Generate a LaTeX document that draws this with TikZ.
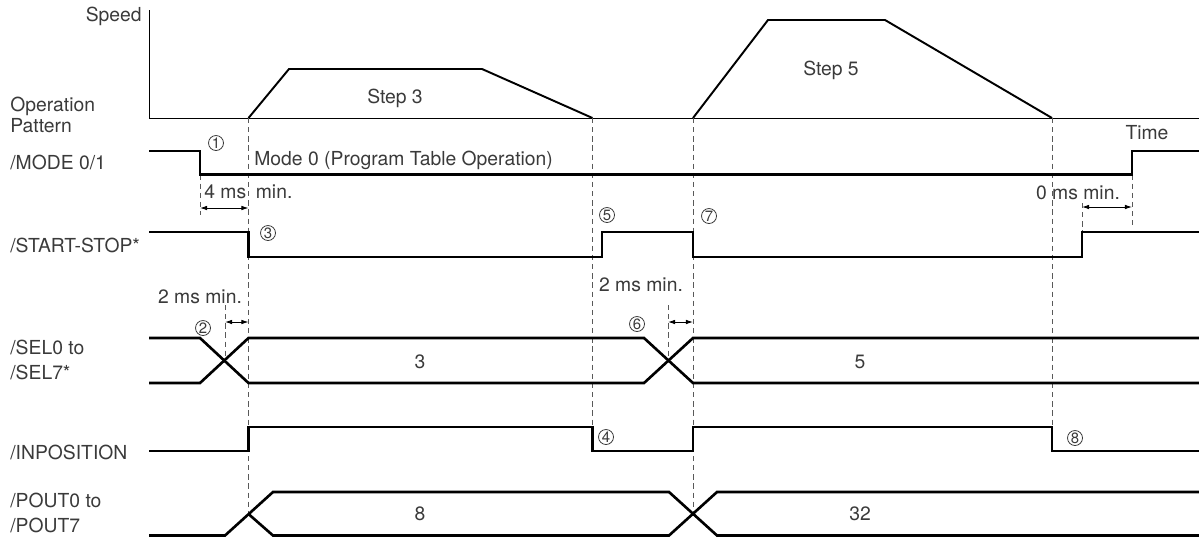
\documentclass[tikz,border=0pt]{standalone}
\usepackage{fontspec}
\setmainfont{TeX Gyre Heros}
\usepackage{tikz}
\usetikzlibrary{calc, arrows.meta}
\usetikzlibrary{positioning}
\definecolor{inkgray}{HTML}{3A3A3A}
\tikzset{
    sig/.style   = {line width=1.5pt, line join=miter},
    prof/.style  = {line width=1.1pt, line join=miter},
    axis/.style  = {line width=0.5pt},
    guide/.style = {draw=black!65, line width=0.5pt, dash pattern=on 3pt off 2.2pt},
    gap/.style   = {{Latex[length=4pt,width=2.6pt]}-{Latex[length=4pt,width=2.6pt]}, line width=0.5pt},
    txt/.style   = {font=\fontsize{11}{13.2}\selectfont, text=inkgray, inner sep=0pt},
    callout/.style = {circle, draw=inkgray, line width=0.45pt, minimum size=0.3cm, inner sep=0pt,
                      font=\fontsize{8.5}{8.5}\selectfont, text=inkgray},
}

\begin{document}
\begin{tikzpicture}[x=0.02cm, y=-0.02cm]
    \useasboundingbox (0,0) rectangle (1199,538);

    % time instants (on the time axis)
    \coordinate (t0)  at (149,118);
    \coordinate (tM)  at (200,118);
    \coordinate (t3)  at (248.5,118);
    \coordinate (t3e) at (592.5,118);
    \coordinate (tS)  at (602,118);
    \coordinate (t5)  at (693,118);
    \coordinate (t5e) at (1052,118);
    \coordinate (tR)  at (1082,118);
    \coordinate (tMR) at (1132,118);
    \coordinate (tE)  at (1199,118);

    % signal levels
    \coordinate (modeH) at (0,151);   \coordinate (modeL) at (0,174.5);
    \coordinate (runH)  at (0,232);   \coordinate (runL)  at (0,257);
    \coordinate (selH)  at (0,338);   \coordinate (selL)  at (0,383);
    \coordinate (inH)   at (0,427);   \coordinate (inL)   at (0,451);
    \coordinate (outH)  at (0,492);   \coordinate (outL)  at (0,535.5);

    % speed axis
    \draw[axis] (149,10) -- (t0) -- (tE);
    \node[txt, anchor=east] (speedlbl) at (142,16) {Speed};
    \node[txt, anchor=west, align=left] (oplbl) at (10,115) {Operation\\[-1.2pt]Pattern};
    \node[txt] (timelbl) at (1147,133) {Time};

    \draw[prof] (t3) -- (289,69) -- (482,69) -- (t3e);
    \draw[prof] (t5) -- (768,20) -- (885,20) -- (t5e);
    \node[txt] (step3) at (395,98) {Step 3};
    \node[txt] (step5) at (831,70) {Step 5};

    % signal names
    \node[txt, anchor=west] (modelbl) at (10,162) {/MODE 0/1};
    \node[txt, anchor=west] (runlbl)  at (10,245) {/START-STOP*};
    \node[txt, anchor=west, align=left] (sellbl) at (10,360) {/SEL0 to\\[1pt]/SEL7*};
    \node[txt, anchor=west] (inlbl)   at (10,452) {/INPOSITION};
    \node[txt, anchor=west, align=left] (outlbl) at (10,513) {/POUT0 to\\[1pt]/POUT7};

    % guide lines
    \draw[guide] (t3) -- (t3 |- 0,514);
    \draw[guide] (t3e) -- (t3e |- inH);
    \draw[guide] (t5) -- (t5 |- 0,514);
    \draw[guide] (t5e) -- (t5e |- inH);
    \draw[guide] (tM |- modeL) -- (tM |- 0,215);
    \draw[guide] (225,305) -- (225,360);
    \draw[guide] (668,305) -- (668,360);
    \draw[guide] (tR |- 0,203) -- (tR |- runH);
    \draw[guide] (tMR |- modeL) -- (tMR |- 0,227);

    % minimum times
    \draw[gap] (tM |- 0,208) -- (t3 |- 0,208);
    \draw[gap] (225,322) -- (t3 |- 0,322);
    \draw[gap] (668,322) -- (t5 |- 0,322);
    \draw[gap] (tR |- 0,207) -- (tMR |- 0,207);
    \node[txt, anchor=west] (min4) at (204,192) {4 ms\enspace min.};
    \node[txt] (min2a) at (200,297) {2 ms min.};
    \node[txt] (min2b) at (641,285) {2 ms min.};
    \node[txt] (min0)  at (1078,193) {0 ms min.};

    % /MODE 0/1
    \draw[sig] (t0 |- modeH) -- (tM |- modeH) -- (tM |- modeL) -- (tMR |- modeL) -- (tMR |- modeH) -- (tE |- modeH);
    \node[txt, anchor=west] (modetxt) at (254,160) {Mode 0 (Program Table Operation)};

    % /START-STOP*
    \draw[sig] (t0 |- runH) -- (t3 |- runH) -- (t3 |- runL) -- (tS |- runL) -- (tS |- runH)
        -- (t5 |- runH) -- (t5 |- runL) -- (tR |- runL) -- (tR |- runH) -- (tE |- runH);

    % /SEL0 to /SEL7*
    \draw[sig] (t0 |- selH) -- (tM |- selH) -- (t3 |- selL) -- ($(t5 |- selL)+(-49,0)$) -- (t5 |- selH) -- (tE |- selH);
    \draw[sig] (t0 |- selL) -- (tM |- selL) -- (t3 |- selH) -- ($(t5 |- selH)+(-49,0)$) -- (t5 |- selL) -- (tE |- selL);
    \node[txt] (sel3) at (420,362) {3};
    \node[txt] (sel5) at (860,362) {5};

    % /INPOSITION
    \draw[sig] (t0 |- inL) -- (t3 |- inL) -- (t3 |- inH) -- (t3e |- inH) -- (t3e |- inL)
        -- (t5 |- inL) -- (t5 |- inH) -- (t5e |- inH) -- (t5e |- inL) -- (tE |- inL);

    % /POUT0 to /POUT7
    \draw[sig] (t0 |- outL) -- (225,535.5) -- (273,492) -- (669,492) -- (717,535.5) -- (tE |- outL);
    \draw[sig] (t3 |- 0,514) -- (273,535.5) -- (669,535.5) -- (717,492) -- (tE |- outH);
    \node[txt] (out8)  at (420,514) {8};
    \node[txt] (out32) at (860,514) {32};

    % step numbers
    \node[callout] (c1) at (216,143) {1};
    \node[callout] (c2) at (203,328) {2};
    \node[callout] (c3) at (268,233) {3};
    \node[callout] (c4) at (606,437) {4};
    \node[callout] (c5) at (607,215) {5};
    \node[callout] (c6) at (637,324) {6};
    \node[callout] (c7) at (709,216) {7};
    \node[callout] (c8) at (1075,438) {8};
\end{tikzpicture}
\end{document}
